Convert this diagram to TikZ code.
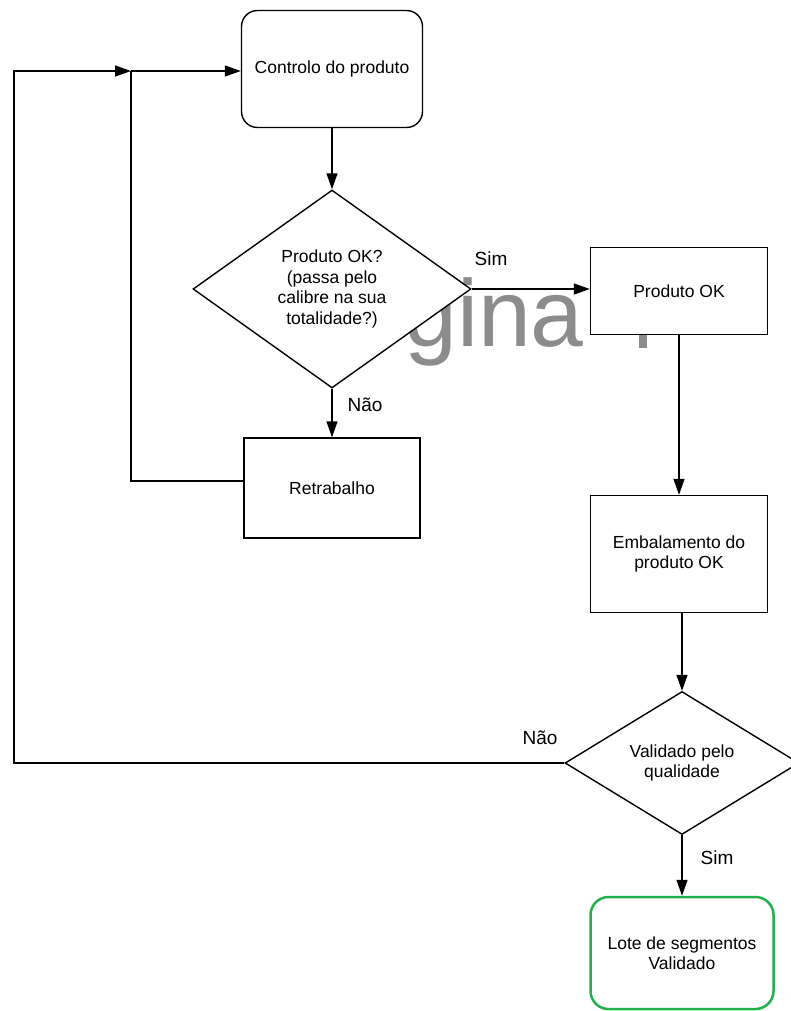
\documentclass[tikz,border=0pt]{standalone}
\usepackage{fontspec}
\setmainfont{Liberation Sans}
\usetikzlibrary{arrows.meta,shapes.geometric}
\definecolor{okgreen}{HTML}{22B14C}
\definecolor{wmgray}{HTML}{8C8C8C}
\begin{document}
\begin{tikzpicture}[x=1pt,y=-1pt,
  every node/.style={font=\fontsize{17.5}{20.5}\selectfont, text=black},
  box/.style={draw, line width=1.4pt, fill=white, align=center, inner sep=0pt},
  dia/.style={draw, diamond, fill=white, line width=1.4pt, inner sep=0pt, align=center},
  arr/.style={-{Triangle[length=16pt,width=11pt]}, line width=1.4pt},
  lnk/.style={line width=1.4pt},
  lbl/.style={font=\fontsize{19}{22}\selectfont, inner sep=0pt},
  wm/.style={font=\fontsize{95}{95}\selectfont, text=wmgray, inner sep=0pt, anchor=base west}]
\useasboundingbox (0,0) rectangle (790,1011);
% watermark remnants (behind the boxes)
\node[wm] (wmark) at (404,346) {gina};
\fill[wmgray] (639,330) rectangle (647,348);
% nodes
\node[box, rounded corners=16pt, minimum width=181pt, minimum height=117pt] (ctrl) at (332,69) {Controlo do produto};
\node[dia, minimum width=278pt, minimum height=198pt] (d1) at (332,289) {Produto OK?\\(passa pelo\\calibre na sua\\totalidade?)};
\node[box, minimum width=177pt, minimum height=87pt] (ok) at (679,291) {Produto OK};
\node[box, minimum width=176pt, minimum height=100pt] (retr) at (332,488) {Retrabalho};
\node[box, minimum width=177pt, minimum height=117pt] (emb) at (679,554) {Embalamento do\\produto OK};
\node[dia, minimum width=234pt, minimum height=143pt] (d2) at (682,763) {Validado pelo\\qualidade};
\node[box, draw=okgreen, rounded corners=18pt, line width=2.5pt, minimum width=183pt, minimum height=112pt] (lote) at (682,953) {Lote de segmentos\\Validado};
% connectors
\draw[arr] (ctrl) -- (d1);
\draw[arr] (d1.east) -- (d1.east -| ok.west);
\draw[arr] (d1) -- (retr);
\draw[arr] (ok) -- (emb);
\draw[arr] (emb.south -| d2) -- (d2.north);
\draw[arr] (d2) -- (lote);
\coordinate (j1) at (131,71);
\coordinate (c1) at (14,71);
\coordinate (c2) at (14,763);
\coordinate (c3) at (131,481);
\draw[lnk] ([yshift=7pt]retr.west) -- (c3) -- (j1);
\draw[arr] (d2.west) -- (c2) -- (c1) -- (j1);
\draw[arr] (j1) -- (j1 -| ctrl.west);
% labels
\node[lbl] (s1) at (491,259) {Sim};
\node[lbl] (n1) at (365,405) {Não};
\node[lbl] (n2) at (540,738) {Não};
\node[lbl] (s2) at (717,858) {Sim};
\end{tikzpicture}
\end{document}
